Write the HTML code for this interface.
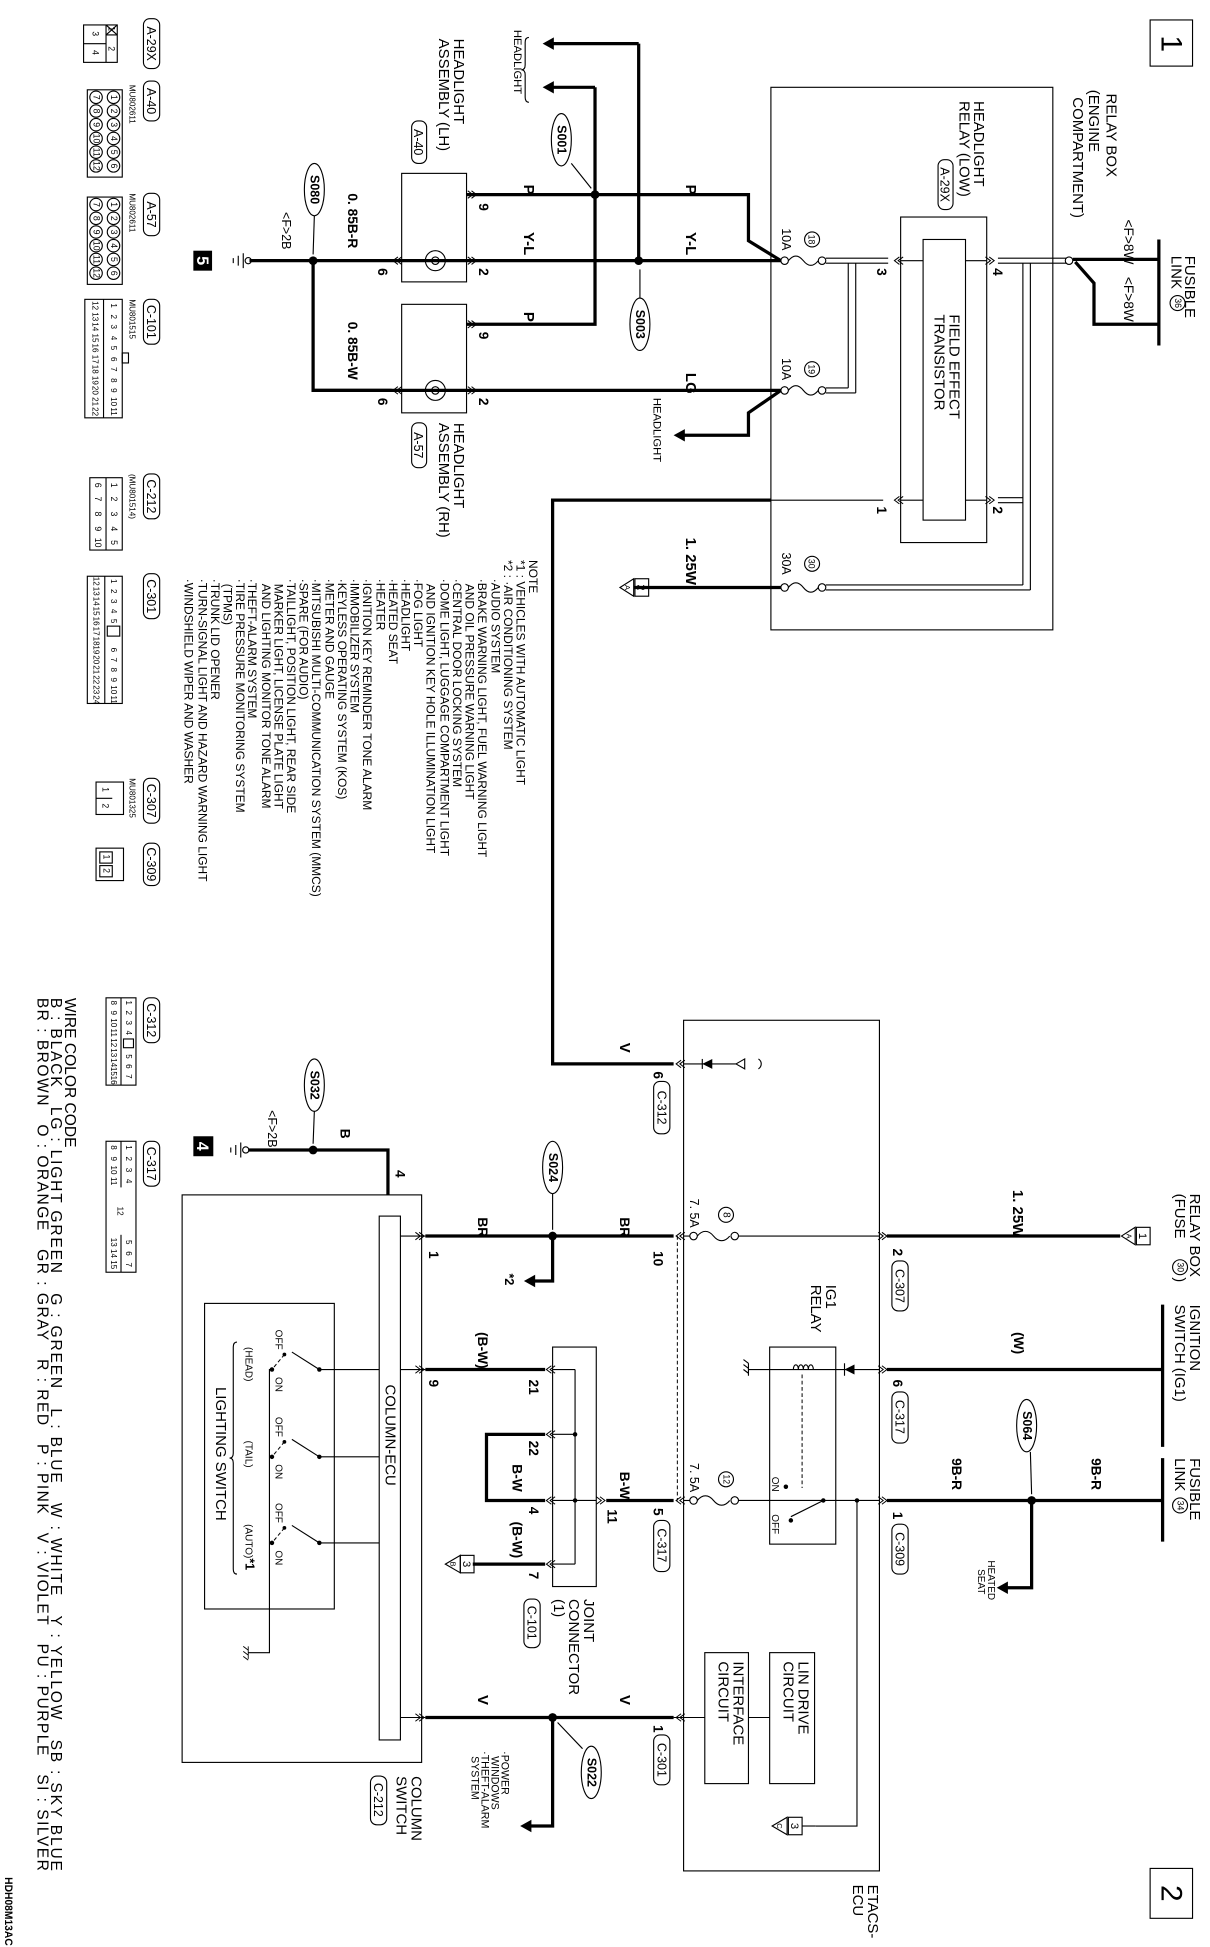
<!DOCTYPE html>
<html><head><meta charset="utf-8"><style>
html,body{margin:0;padding:0;background:#fff}
svg{display:block}
text{font-family:"Liberation Sans",sans-serif;fill:#000}
.w{stroke:#000;stroke-width:2.6;fill:none}
.t{stroke:#000;stroke-width:0.9;fill:none}
.d{stroke:#000;stroke-width:0.8;fill:none;stroke-dasharray:3 2}
.b{font-weight:bold}
</style></head><body>
<svg width="1210" height="1947" viewBox="0 0 970 1561" preserveAspectRatio="none" xmlns="http://www.w3.org/2000/svg">
<defs>
<g id="chev"><path d="M5,-3 L1,0 L5,3 M8,-3 L4,0 L8,3" stroke="#000" stroke-width="0.8" fill="none"/></g>
<g id="chevr"><path d="M-5,-3 L-1,0 L-5,3 M-8,-3 L-4,0 L-8,3" stroke="#000" stroke-width="0.8" fill="none"/></g>
</defs>

<!-- ============ TOP SECTION ============ -->
<rect x="922" y="16" width="34" height="37" class="t" stroke-width="1.3"/>
<text transform="translate(931,35) rotate(90)" font-size="24" text-anchor="middle">1</text>

<line x1="929" y1="192" x2="929" y2="277" class="w"/>
<text transform="translate(950,205) rotate(90)" font-size="12">FUSIBLE</text>
<text transform="translate(939,205) rotate(90)" font-size="12">LINK</text>
<circle cx="944" cy="243" r="6" class="t"/>
<text transform="translate(942,243) rotate(90)" font-size="7" text-anchor="middle">36</text>
<text transform="translate(901,176) rotate(90)" font-size="11">&lt;F&gt;8W</text>
<text transform="translate(901,222) rotate(90)" font-size="11">&lt;F&gt;8W</text>
<polyline points="929,208 860,208" class="w"/>
<polyline points="929,260 877,260 877,227 862,210" class="w"/>
<circle cx="857" cy="209" r="3" class="t" fill="#fff"/>

<rect x="618" y="70" width="226" height="435" class="t"/>
<text transform="translate(887,75) rotate(90)" font-size="12">RELAY BOX</text>
<text transform="translate(873,72) rotate(90)" font-size="12">(ENGINE</text>
<text transform="translate(860,78) rotate(90)" font-size="12">COMPARTMENT)</text>
<text transform="translate(781,81) rotate(90)" font-size="12">HEADLIGHT</text>
<text transform="translate(769,81) rotate(90)" font-size="12">RELAY (LOW)</text>
<rect x="752" y="128" width="12" height="40" rx="5" class="t"/>
<text transform="translate(754,148) rotate(90)" font-size="10" text-anchor="middle">A-29X</text>
<rect x="722" y="174" width="69" height="261" class="t"/>
<rect x="740" y="192" width="34" height="225" class="t"/>
<text transform="translate(761,252) rotate(90)" font-size="12">FIELD EFFECT</text>
<text transform="translate(749,252) rotate(90)" font-size="12">TRANSISTOR</text>
<line x1="722" y1="209" x2="740" y2="209" class="t"/>
<line x1="774" y1="209" x2="791" y2="209" class="t"/>
<line x1="722" y1="401" x2="740" y2="401" class="t"/>
<line x1="774" y1="401" x2="791" y2="401" class="t"/>
<use href="#chev" x="716" y="209"/><use href="#chevr" x="798" y="209"/>
<use href="#chev" x="716" y="401"/><use href="#chevr" x="798" y="401"/>
<text transform="translate(703,215) rotate(90)" font-size="11" class="b">3</text>
<text transform="translate(796,215) rotate(90)" font-size="11" class="b">4</text>
<text transform="translate(703,406) rotate(90)" font-size="11" class="b">1</text>
<text transform="translate(796,406) rotate(90)" font-size="11" class="b">2</text>

<path d="M662,207 H712 M662,211 H712" class="t" stroke-width="0.7"/>
<path d="M680,211 V311 M686,211 V315 M662,311 H680 M662,315 H686" class="t" stroke-width="0.7"/>
<path d="M800,207 H855 M800,211 H855" class="t" stroke-width="0.7"/>
<path d="M820,211 V469 M826,211 V473 M662,469 H820 M662,473 H826" class="t" stroke-width="0.7"/>
<path d="M800,399 H820 M800,403 H820" class="t" stroke-width="0.7"/>
<line x1="618" y1="401" x2="708" y2="401" class="t"/>

<g class="t">
<circle cx="629" cy="209" r="3"/><circle cx="659" cy="209" r="3"/>
<path d="M632,209 c4,-5 8,-5 12,0 c4,5 8,5 12,0"/>
<circle cx="629" cy="313" r="3"/><circle cx="659" cy="313" r="3"/>
<path d="M632,313 c4,-5 8,-5 12,0 c4,5 8,5 12,0"/>
<circle cx="629" cy="471" r="3"/><circle cx="659" cy="471" r="3"/>
<path d="M632,471 c4,-5 8,-5 12,0 c4,5 8,5 12,0"/>
<circle cx="651" cy="192" r="6"/><circle cx="651" cy="296" r="6"/><circle cx="651" cy="452" r="6"/>
</g>
<text transform="translate(648,192) rotate(90)" font-size="7" text-anchor="middle">18</text>
<text transform="translate(648,296) rotate(90)" font-size="7" text-anchor="middle">19</text>
<text transform="translate(648,452) rotate(90)" font-size="7" text-anchor="middle">30</text>
<text transform="translate(627,183) rotate(90)" font-size="10">10A</text>
<text transform="translate(627,287) rotate(90)" font-size="10">10A</text>
<text transform="translate(627,443) rotate(90)" font-size="10">30A</text>

<line x1="200" y1="209" x2="626" y2="209" class="w"/>
<polyline points="374,156 600,156 600,193 626,209" class="w"/>
<line x1="250" y1="313" x2="626" y2="313" class="w"/>
<polyline points="626,313 600,331 600,349 547,349" class="w"/>
<polygon points="540,349 549,344 549,354"/>
<text transform="translate(524,319) rotate(90)" font-size="9">HEADLIGHT</text>
<polyline points="477,70 477,260 374,260" class="w"/>
<polyline points="512,35 512,209" class="w"/>
<line x1="512" y1="35" x2="442" y2="35" class="w"/>
<polygon points="435,35 444,30 444,40"/>
<line x1="477" y1="70" x2="442" y2="70" class="w"/>
<polygon points="435,70 444,65 444,75"/>
<circle cx="477" cy="156" r="3.5"/><circle cx="512" cy="209" r="3.5"/>
<text transform="translate(412,24) rotate(90)" font-size="9">HEADLIGHT</text>
<path d="M424,30 q-3,0 -3,4 v18 q0,4 -3,4 q3,0 3,4 v18 q0,4 3,4" class="t"/>

<text transform="translate(550,148) rotate(90)" font-size="12" class="b">P</text>
<text transform="translate(550,186) rotate(90)" font-size="12" class="b">Y-L</text>
<text transform="translate(550,299) rotate(90)" font-size="12" class="b">LG</text>
<text transform="translate(550,431) rotate(90)" font-size="12" class="b">1. 25W</text>
<text transform="translate(420,148) rotate(90)" font-size="12" class="b">P</text>
<text transform="translate(420,186) rotate(90)" font-size="12" class="b">Y-L</text>
<text transform="translate(420,250) rotate(90)" font-size="12" class="b">P</text>

<ellipse cx="450" cy="112" rx="8" ry="21" class="t" stroke-width="1.2"/>
<text transform="translate(447,112) rotate(90)" font-size="10" text-anchor="middle" class="b">S001</text>
<line x1="458" y1="131" x2="474" y2="151" class="t"/>
<ellipse cx="513" cy="260" rx="8" ry="21" class="t" stroke-width="1.2"/>
<text transform="translate(510,260) rotate(90)" font-size="10" text-anchor="middle" class="b">S003</text>
<line x1="513" y1="239" x2="513" y2="216" class="t"/>
<ellipse cx="252" cy="152" rx="8" ry="21" class="t" stroke-width="1.2"/>
<text transform="translate(249,152) rotate(90)" font-size="10" text-anchor="middle" class="b">S080</text>
<line x1="252" y1="173" x2="251" y2="204" class="t"/>

<rect x="322" y="139" width="52" height="87" class="t"/>
<rect x="322" y="244" width="52" height="87" class="t"/>
<line x1="322" y1="209" x2="374" y2="209" class="t" stroke-width="0.6"/>
<line x1="322" y1="313" x2="374" y2="313" class="t" stroke-width="0.6"/>
<circle cx="349" cy="209" r="8" class="t" fill="#fff"/><circle cx="349" cy="209" r="3" class="t"/>
<circle cx="349" cy="313" r="8" class="t" fill="#fff"/><circle cx="349" cy="313" r="3" class="t"/>
<use href="#chevr" x="383" y="156"/><use href="#chevr" x="383" y="209"/><use href="#chev" x="314" y="209"/>
<use href="#chevr" x="383" y="260"/><use href="#chevr" x="383" y="313"/><use href="#chev" x="314" y="313"/>
<text transform="translate(384,163) rotate(90)" font-size="11" class="b">9</text>
<text transform="translate(384,215) rotate(90)" font-size="11" class="b">2</text>
<text transform="translate(303,215) rotate(90)" font-size="11" class="b">6</text>
<text transform="translate(384,266) rotate(90)" font-size="11" class="b">9</text>
<text transform="translate(384,319) rotate(90)" font-size="11" class="b">2</text>
<text transform="translate(303,319) rotate(90)" font-size="11" class="b">6</text>
<text transform="translate(364,31) rotate(90)" font-size="12">HEADLIGHT</text>
<text transform="translate(352,31) rotate(90)" font-size="12">ASSEMBLY (LH)</text>
<rect x="330" y="97" width="12" height="34" rx="5" class="t"/>
<text transform="translate(332,114) rotate(90)" font-size="10" text-anchor="middle">A-40</text>
<text transform="translate(364,339) rotate(90)" font-size="12">HEADLIGHT</text>
<text transform="translate(352,339) rotate(90)" font-size="12">ASSEMBLY (RH)</text>
<rect x="330" y="339" width="12" height="36" rx="5" class="t"/>
<text transform="translate(332,357) rotate(90)" font-size="10" text-anchor="middle">A-57</text>

<polyline points="251,209 251,313 314,313" class="w"/>
<circle cx="251" cy="209" r="3.5"/>
<text transform="translate(279,155) rotate(90)" font-size="11" class="b">0. 85B-R</text>
<text transform="translate(279,258) rotate(90)" font-size="11" class="b">0. 85B-W</text>
<text transform="translate(226,170) rotate(90)" font-size="10">&lt;F&gt;2B</text>
<circle cx="199" cy="209" r="2.5" class="t" fill="#fff"/>
<path d="M195,203 V215 M191,205 V213 M187,207 V211" class="t"/>
<rect x="155" y="201" width="15" height="16"/>
<text transform="translate(158,209) rotate(90)" font-size="13" text-anchor="middle" style="fill:#fff" class="b">5</text>

<line x1="508" y1="471" x2="626" y2="471" class="w"/>
<polygon points="497,471 508,464 508,478" class="t" fill="#fff"/>
<text transform="translate(501,471) rotate(90)" font-size="6" text-anchor="middle">A</text>
<rect x="509" y="464" width="11" height="14" class="t" fill="#fff"/>
<text transform="translate(511,471) rotate(90)" font-size="9" text-anchor="middle">2</text>

<polyline points="618,401 443,401 443,853 540,853" class="w"/>

<g font-size="9.6">
<text transform="translate(424,449) rotate(90)">NOTE</text>
<text transform="translate(414,449) rotate(90)">*1 : VEHICLES WITH AUTOMATIC LIGHT</text>
<text transform="translate(404,449) rotate(90)">*2 : ·AIR CONDITIONING SYSTEM</text>
<text transform="translate(394,464) rotate(90)">·AUDIO SYSTEM</text>
<text transform="translate(383,464) rotate(90)">·BRAKE WARNING LIGHT, FUEL WARNING LIGHT</text>
<text transform="translate(373,468) rotate(90)">AND OIL PRESSURE WARNING LIGHT</text>
<text transform="translate(363,464) rotate(90)">·CENTRAL DOOR LOCKING SYSTEM</text>
<text transform="translate(353,464) rotate(90)">·DOME LIGHT, LUGGAGE COMPARTMENT LIGHT</text>
<text transform="translate(342,468) rotate(90)">AND IGNITION KEY HOLE ILLUMINATION LIGHT</text>
<text transform="translate(332,464) rotate(90)">·FOG LIGHT</text>
<text transform="translate(322,464) rotate(90)">·HEADLIGHT</text>
<text transform="translate(312,464) rotate(90)">·HEATED SEAT</text>
<text transform="translate(302,464) rotate(90)">·HEATER</text>
<text transform="translate(291,464) rotate(90)">·IGNITION KEY REMINDER TONE ALARM</text>
<text transform="translate(281,464) rotate(90)">·IMMOBILIZER SYSTEM</text>
<text transform="translate(271,464) rotate(90)">·KEYLESS OPERATING SYSTEM (KOS)</text>
<text transform="translate(261,464) rotate(90)">·METER AND GAUGE</text>
<text transform="translate(250,464) rotate(90)">·MITSUBISHI MULTI-COMMUNICATION SYSTEM (MMCS)</text>
<text transform="translate(240,464) rotate(90)">·SPARE (FOR AUDIO)</text>
<text transform="translate(230,464) rotate(90)">·TAILLIGHT, POSITION LIGHT, REAR SIDE</text>
<text transform="translate(220,468) rotate(90)">MARKER LIGHT, LICENSE PLATE LIGHT</text>
<text transform="translate(210,468) rotate(90)">AND LIGHTING MONITOR TONE ALARM</text>
<text transform="translate(199,464) rotate(90)">·THEFT-ALARM SYSTEM</text>
<text transform="translate(189,464) rotate(90)">·TIRE PRESSURE MONITORING SYSTEM</text>
<text transform="translate(179,468) rotate(90)">(TPMS)</text>
<text transform="translate(169,464) rotate(90)">·TRUNK LID OPENER</text>
<text transform="translate(159,464) rotate(90)">·TURN-SIGNAL LIGHT AND HAZARD WARNING LIGHT</text>
<text transform="translate(148,464) rotate(90)">·WINDSHIELD WIPER AND WASHER</text>
</g>

<!-- ============ BOTTOM SECTION ============ -->
<rect x="922" y="1498" width="34" height="40" class="t" stroke-width="1.3"/>
<text transform="translate(931,1518) rotate(90)" font-size="24" text-anchor="middle">2</text>

<rect x="548" y="818" width="157" height="682" class="t"/>
<text transform="translate(696,1511) rotate(90)" font-size="12">ETACS-</text>
<text transform="translate(684,1511) rotate(90)" font-size="12">ECU</text>

<use href="#chev" x="541" y="853"/>
<line x1="548" y1="853" x2="590" y2="853" class="t"/>
<polygon points="563,853 571,849 571,857"/><line x1="563" y1="849" x2="563" y2="857" class="t"/>
<polygon points="590,853 597,849 597,857" class="t" fill="#fff"/>
<path d="M608,849 c3,2 3,6 0,8" class="t"/>
<text transform="translate(497,836) rotate(90)" font-size="12" class="b">V</text>
<text transform="translate(524,859) rotate(90)" font-size="11" class="b">6</text>
<rect x="524" y="867" width="13" height="42" rx="5" class="t"/>
<text transform="translate(527,888) rotate(90)" font-size="10" text-anchor="middle">C-312</text>

<text transform="translate(954,957) rotate(90)" font-size="12">RELAY BOX</text>
<text transform="translate(942,957) rotate(90)" font-size="12">(FUSE</text>
<circle cx="946" cy="1016" r="6" class="t"/>
<text transform="translate(944,1016) rotate(90)" font-size="7" text-anchor="middle">30</text>
<text transform="translate(942,1024) rotate(90)" font-size="12">)</text>
<line x1="711" y1="991" x2="898" y2="991" class="w"/>
<polygon points="899,991 910,984 910,998" class="t" fill="#fff"/>
<text transform="translate(903,991) rotate(90)" font-size="6" text-anchor="middle">A</text>
<rect x="911" y="984" width="11" height="14" class="t" fill="#fff"/>
<text transform="translate(913,991) rotate(90)" font-size="9" text-anchor="middle">1</text>
<text transform="translate(812,954) rotate(90)" font-size="12" class="b">1. 25W</text>

<line x1="932" y1="1046" x2="932" y2="1160" class="w"/>
<text transform="translate(954,1046) rotate(90)" font-size="12">IGNITION</text>
<text transform="translate(942,1046) rotate(90)" font-size="12">SWITCH (IG1)</text>
<line x1="711" y1="1098" x2="932" y2="1098" class="w"/>
<text transform="translate(813,1068) rotate(90)" font-size="11" class="b">(W)</text>

<line x1="932" y1="1169" x2="932" y2="1236" class="w"/>
<text transform="translate(954,1169) rotate(90)" font-size="12">FUSIBLE</text>
<text transform="translate(942,1169) rotate(90)" font-size="12">LINK</text>
<circle cx="946" cy="1207" r="6" class="t"/>
<text transform="translate(944,1207) rotate(90)" font-size="7" text-anchor="middle">34</text>
<line x1="711" y1="1203" x2="932" y2="1203" class="w"/>
<circle cx="827" cy="1203" r="3.5"/>
<polyline points="827,1203 827,1273 806,1273" class="w"/>
<polygon points="799,1273 808,1268 808,1278"/>
<text transform="translate(792,1251) rotate(90)" font-size="8">HEATED</text>
<text transform="translate(784,1258) rotate(90)" font-size="8">SEAT</text>
<ellipse cx="823" cy="1143" rx="8" ry="21" class="t" stroke-width="1.2"/>
<text transform="translate(820,1143) rotate(90)" font-size="10" text-anchor="middle" class="b">S064</text>
<line x1="826" y1="1164" x2="827" y2="1198" class="t"/>
<text transform="translate(875,1169) rotate(90)" font-size="11" class="b">9B-R</text>
<text transform="translate(763,1169) rotate(90)" font-size="11" class="b">9B-R</text>

<use href="#chevr" x="712" y="991"/><use href="#chevr" x="712" y="1098"/><use href="#chevr" x="712" y="1203"/>
<text transform="translate(716,1001) rotate(90)" font-size="11" class="b">2</text>
<rect x="715" y="1011" width="13" height="40" rx="5" class="t"/>
<text transform="translate(718,1031) rotate(90)" font-size="10" text-anchor="middle">C-307</text>
<text transform="translate(716,1106) rotate(90)" font-size="11" class="b">6</text>
<rect x="715" y="1116" width="13" height="41" rx="5" class="t"/>
<text transform="translate(718,1136) rotate(90)" font-size="10" text-anchor="middle">C-317</text>
<text transform="translate(716,1212) rotate(90)" font-size="11" class="b">1</text>
<rect x="715" y="1222" width="13" height="40" rx="5" class="t"/>
<text transform="translate(718,1242) rotate(90)" font-size="10" text-anchor="middle">C-309</text>

<g class="t">
<circle cx="556" cy="991" r="3"/><circle cx="589" cy="991" r="3"/>
<path d="M559,991 c4,-5 9,-5 13,0 c4,5 9,5 13,0"/>
<line x1="592" y1="991" x2="705" y2="991"/>
<circle cx="556" cy="1203" r="3"/><circle cx="589" cy="1203" r="3"/>
<path d="M559,1203 c4,-5 9,-5 13,0 c4,5 9,5 13,0"/>
<circle cx="582" cy="974" r="6"/><circle cx="582" cy="1186" r="6"/>
</g>
<text transform="translate(580,974) rotate(90)" font-size="8" text-anchor="middle">8</text>
<text transform="translate(580,1186) rotate(90)" font-size="7" text-anchor="middle">12</text>
<text transform="translate(553,961) rotate(90)" font-size="10">7. 5A</text>
<text transform="translate(553,1173) rotate(90)" font-size="10">7. 5A</text>
<line x1="543" y1="991" x2="543" y2="1203" class="d"/>

<rect x="617" y="1080" width="53" height="158" class="t"/>
<text transform="translate(662,1030) rotate(90)" font-size="12">IG1</text>
<text transform="translate(650,1030) rotate(90)" font-size="12">RELAY</text>
<line x1="600" y1="1098" x2="705" y2="1098" class="t"/>
<path d="M636,1098 c0,-5 4,-5 4,0 c0,-5 4,-5 4,0 c0,-5 4,-5 4,0 c0,-5 4,-5 4,0" class="t" fill="#fff"/>
<polygon points="677,1098 685,1094 685,1102"/><line x1="677" y1="1093" x2="677" y2="1103" class="t"/>
<path d="M600,1093 V1103 M596,1094 l4,3 M596,1098 l4,3 M596,1090 l4,3" class="t" stroke-width="0.7"/>
<line x1="643" y1="1102" x2="643" y2="1193" class="d"/>
<line x1="592" y1="1203" x2="705" y2="1203" class="t"/>
<circle cx="660" cy="1203" r="1.8"/>
<line x1="660" y1="1203" x2="634" y2="1216" class="t"/>
<circle cx="630" cy="1192" r="1.8"/><circle cx="634" cy="1219" r="1.8"/>
<text transform="translate(619,1184) rotate(90)" font-size="8">ON</text>
<text transform="translate(619,1214) rotate(90)" font-size="8">OFF</text>
<circle cx="687" cy="1203" r="1.8"/>
<polyline points="687,1203 687,1464 654,1464" class="t"/>
<polygon points="619,1464 631,1457 631,1471" class="t" fill="#fff"/>
<text transform="translate(623,1464) rotate(90)" font-size="6" text-anchor="middle">C</text>
<rect x="632" y="1457" width="11" height="14" class="t" fill="#fff"/>
<text transform="translate(634,1464) rotate(90)" font-size="9" text-anchor="middle">3</text>
<line x1="643" y1="1464" x2="654" y2="1464" class="t"/>

<rect x="617" y="1325" width="36" height="105" class="t"/>
<rect x="565" y="1325" width="35" height="105" class="t"/>
<text transform="translate(640,1332) rotate(90)" font-size="12">LIN DRIVE</text>
<text transform="translate(628,1332) rotate(90)" font-size="12">CIRCUIT</text>
<text transform="translate(588,1332) rotate(90)" font-size="12">INTERFACE</text>
<text transform="translate(576,1332) rotate(90)" font-size="12">CIRCUIT</text>
<line x1="540" y1="1377" x2="565" y2="1377" class="t"/>
<line x1="600" y1="1377" x2="617" y2="1377" class="t"/>

<line x1="341" y1="1377" x2="540" y2="1377" class="w"/>
<circle cx="443" cy="1377" r="3.5"/>
<polyline points="443,1377 443,1464 424,1464" class="w"/>
<polygon points="417,1464 426,1459 426,1469"/>
<ellipse cx="474" cy="1421" rx="8" ry="21" class="t" stroke-width="1.2"/>
<text transform="translate(471,1421) rotate(90)" font-size="10" text-anchor="middle" class="b">S022</text>
<line x1="467" y1="1402" x2="447" y2="1381" class="t"/>
<text transform="translate(402,1404) rotate(90)" font-size="8.5">·POWER</text>
<text transform="translate(394,1408) rotate(90)" font-size="8.5">WINDOWS</text>
<text transform="translate(386,1404) rotate(90)" font-size="8.5">·THEFT-ALARM</text>
<text transform="translate(378,1408) rotate(90)" font-size="8.5">SYSTEM</text>
<text transform="translate(497,1359) rotate(90)" font-size="12" class="b">V</text>
<text transform="translate(383,1359) rotate(90)" font-size="12" class="b">V</text>
<text transform="translate(524,1383) rotate(90)" font-size="11" class="b">1</text>
<rect x="524" y="1391" width="13" height="40" rx="5" class="t"/>
<text transform="translate(527,1411) rotate(90)" font-size="10" text-anchor="middle">C-301</text>
<use href="#chev" x="541" y="1377"/><use href="#chev" x="541" y="991"/><use href="#chev" x="541" y="1203"/>

<line x1="341" y1="991" x2="540" y2="991" class="w"/>
<line x1="548" y1="991" x2="553" y2="991" class="t"/>
<line x1="548" y1="1203" x2="553" y2="1203" class="t"/>
<circle cx="443" cy="991" r="3.5"/>
<polyline points="443,991 443,1027 427,1027" class="w"/>
<polygon points="420,1027 429,1022 429,1032"/>
<text transform="translate(405,1021) rotate(90)" font-size="10" class="b">*2</text>
<ellipse cx="443" cy="936" rx="8" ry="21" class="t" stroke-width="1.2"/>
<text transform="translate(440,936) rotate(90)" font-size="10" text-anchor="middle" class="b">S024</text>
<line x1="443" y1="957" x2="443" y2="986" class="t"/>
<text transform="translate(497,976) rotate(90)" font-size="11" class="b">BR</text>
<text transform="translate(383,976) rotate(90)" font-size="11" class="b">BR</text>
<text transform="translate(524,1003) rotate(90)" font-size="11" class="b">10</text>
<text transform="translate(344,1003) rotate(90)" font-size="11" class="b">1</text>

<rect x="443" y="1080" width="35" height="192" class="t"/>
<line x1="461" y1="1098" x2="461" y2="1254" class="t"/>
<line x1="443" y1="1098" x2="461" y2="1098" class="t"/>
<line x1="443" y1="1150" x2="461" y2="1150" class="t"/>
<line x1="443" y1="1203" x2="478" y2="1203" class="t"/>
<line x1="443" y1="1254" x2="461" y2="1254" class="t"/>
<circle cx="461" cy="1150" r="1.8"/><circle cx="461" cy="1203" r="1.8"/>
<use href="#chev" x="437" y="1098"/><use href="#chev" x="437" y="1150"/><use href="#chev" x="437" y="1203"/><use href="#chev" x="437" y="1254"/>
<use href="#chevr" x="486" y="1203"/>
<line x1="341" y1="1098" x2="437" y2="1098" class="w"/>
<polyline points="437,1150 390,1150 390,1203 437,1203" class="w"/>
<line x1="486" y1="1203" x2="540" y2="1203" class="w"/>
<line x1="379" y1="1254" x2="437" y2="1254" class="w"/>
<polygon points="357,1254 369,1247 369,1261" class="t" fill="#fff"/>
<text transform="translate(361,1254) rotate(90)" font-size="6" text-anchor="middle">B</text>
<rect x="369" y="1247" width="11" height="14" class="t" fill="#fff"/>
<text transform="translate(371,1254) rotate(90)" font-size="9" text-anchor="middle">3</text>
<text transform="translate(383,1068) rotate(90)" font-size="11" class="b">(B-W)</text>
<text transform="translate(344,1106) rotate(90)" font-size="11" class="b">9</text>
<text transform="translate(424,1106) rotate(90)" font-size="11" class="b">21</text>
<text transform="translate(424,1155) rotate(90)" font-size="11" class="b">22</text>
<text transform="translate(411,1174) rotate(90)" font-size="11" class="b">B-W</text>
<text transform="translate(424,1208) rotate(90)" font-size="11" class="b">4</text>
<text transform="translate(411,1220) rotate(90)" font-size="11" class="b">(B-W)</text>
<text transform="translate(424,1260) rotate(90)" font-size="11" class="b">7</text>
<text transform="translate(487,1210) rotate(90)" font-size="11" class="b">11</text>
<text transform="translate(497,1180) rotate(90)" font-size="11" class="b">B-W</text>
<text transform="translate(524,1209) rotate(90)" font-size="11" class="b">5</text>
<rect x="524" y="1219" width="13" height="41" rx="5" class="t"/>
<text transform="translate(527,1239) rotate(90)" font-size="10" text-anchor="middle">C-317</text>
<text transform="translate(468,1282) rotate(90)" font-size="12">JOINT</text>
<text transform="translate(456,1282) rotate(90)" font-size="12">CONNECTOR</text>
<text transform="translate(444,1282) rotate(90)" font-size="12">(1)</text>
<rect x="420" y="1282" width="13" height="39" rx="5" class="t"/>
<text transform="translate(423,1301) rotate(90)" font-size="10" text-anchor="middle">C-101</text>

<rect x="146" y="958" width="192" height="455" class="t"/>
<rect x="304" y="975" width="17" height="420" class="t"/>
<text transform="translate(309,1110) rotate(90)" font-size="12">COLUMN-ECU</text>
<line x1="321" y1="991" x2="341" y2="991" class="t"/><use href="#chevr" x="341" y="991"/>
<line x1="321" y1="1098" x2="341" y2="1098" class="t"/><use href="#chevr" x="341" y="1098"/>
<line x1="321" y1="1377" x2="341" y2="1377" class="t"/><use href="#chevr" x="341" y="1377"/>
<text transform="translate(330,1424) rotate(90)" font-size="12">COLUMN</text>
<text transform="translate(318,1424) rotate(90)" font-size="12">SWITCH</text>
<rect x="297" y="1424" width="13" height="39" rx="5" class="t"/>
<text transform="translate(300,1443) rotate(90)" font-size="10" text-anchor="middle">C-212</text>

<rect x="164" y="1045" width="104" height="245" class="t"/>
<text transform="translate(173,1112) rotate(90)" font-size="12">LIGHTING SWITCH</text>
<path d="M190,1076 q-3,0 -3,4 v85 q0,4 -3,4 q3,0 3,4 v85 q0,4 3,4" class="t"/>
<g class="t">
<line x1="256" y1="1098" x2="304" y2="1098"/>
<line x1="256" y1="1168" x2="304" y2="1168"/>
<line x1="256" y1="1237" x2="304" y2="1237"/>
<line x1="256" y1="1098" x2="234" y2="1084"/>
<line x1="256" y1="1168" x2="234" y2="1154"/>
<line x1="256" y1="1237" x2="234" y2="1223"/>
<polyline points="218,1098 216,1098 216,1325 199,1325"/>
<line x1="216" y1="1168" x2="218" y2="1168"/>
<line x1="216" y1="1237" x2="218" y2="1237"/>
<path d="M199,1320 V1330 M195,1320 l4,3 M195,1324 l4,3 M195,1328 l4,3" stroke-width="0.7"/>
</g>
<g>
<circle cx="256" cy="1098" r="1.8"/><circle cx="256" cy="1168" r="1.8"/><circle cx="256" cy="1237" r="1.8"/>
<circle cx="218" cy="1098" r="1.8"/><circle cx="218" cy="1168" r="1.8"/><circle cx="218" cy="1237" r="1.8"/>
<circle cx="228" cy="1086" r="1.5"/><circle cx="228" cy="1156" r="1.5"/><circle cx="228" cy="1225" r="1.5"/>
</g>
<path d="M228,1086 L218,1098 M228,1156 L218,1168 M228,1225 L218,1237" class="d" stroke-width="0.6"/>
<g font-size="8">
<text transform="translate(221,1066) rotate(90)">OFF</text>
<text transform="translate(221,1104) rotate(90)">ON</text>
<text transform="translate(221,1136) rotate(90)">OFF</text>
<text transform="translate(221,1174) rotate(90)">ON</text>
<text transform="translate(221,1205) rotate(90)">OFF</text>
<text transform="translate(221,1243) rotate(90)">ON</text>
<text transform="translate(197,1080) rotate(90)">(HEAD)</text>
<text transform="translate(197,1155) rotate(90)">(TAIL)</text>
<text transform="translate(197,1222) rotate(90)">(AUTO)<tspan font-size="10" class="b">*1</tspan></text>
</g>

<polyline points="199,922 311,922 311,958" class="w"/>
<circle cx="251" cy="922" r="3.5"/>
<ellipse cx="252" cy="870" rx="8" ry="21" class="t" stroke-width="1.2"/>
<text transform="translate(249,870) rotate(90)" font-size="10" text-anchor="middle" class="b">S032</text>
<line x1="252" y1="891" x2="251" y2="917" class="t"/>
<text transform="translate(273,905) rotate(90)" font-size="11" class="b">B</text>
<text transform="translate(317,938) rotate(90)" font-size="11" class="b">4</text>
<text transform="translate(215,890) rotate(90)" font-size="10">&lt;F&gt;2B</text>
<circle cx="197" cy="922" r="2.5" class="t" fill="#fff"/>
<path d="M193,916 V928 M189,918 V926 M185,920 V924" class="t"/>
<rect x="155" y="911" width="16" height="16"/>
<text transform="translate(158,919) rotate(90)" font-size="13" text-anchor="middle" style="fill:#fff" class="b">4</text>

<!-- connector views -->
<g font-size="10">
<rect x="115" y="15" width="13" height="40" rx="5" class="t"/><text transform="translate(118,35) rotate(90)" text-anchor="middle">A-29X</text>
<rect x="115" y="65" width="13" height="32" rx="5" class="t"/><text transform="translate(118,81) rotate(90)" text-anchor="middle">A-40</text>
<rect x="115" y="155" width="13" height="34" rx="5" class="t"/><text transform="translate(118,172) rotate(90)" text-anchor="middle">A-57</text>
<rect x="115" y="240" width="13" height="36" rx="5" class="t"/><text transform="translate(118,258) rotate(90)" text-anchor="middle">C-101</text>
<rect x="115" y="380" width="13" height="36" rx="5" class="t"/><text transform="translate(118,398) rotate(90)" text-anchor="middle">C-212</text>
<rect x="115" y="460" width="13" height="36" rx="5" class="t"/><text transform="translate(118,478) rotate(90)" text-anchor="middle">C-301</text>
<rect x="115" y="624" width="13" height="36" rx="5" class="t"/><text transform="translate(118,642) rotate(90)" text-anchor="middle">C-307</text>
<rect x="115" y="676" width="13" height="34" rx="5" class="t"/><text transform="translate(118,693) rotate(90)" text-anchor="middle">C-309</text>
<rect x="115" y="800" width="13" height="36" rx="5" class="t"/><text transform="translate(118,818) rotate(90)" text-anchor="middle">C-312</text>
<rect x="115" y="915" width="13" height="36" rx="5" class="t"/><text transform="translate(118,933) rotate(90)" text-anchor="middle">C-317</text>
</g>
<g font-size="6.5">
<text transform="translate(104,68) rotate(90)">MU802611</text>
<text transform="translate(104,155) rotate(90)">MU802611</text>
<text transform="translate(104,240) rotate(90)">MU801515</text>
<text transform="translate(104,380) rotate(90)">(MU801514)</text>
<text transform="translate(104,624) rotate(90)">MU801325</text>
</g>

<rect x="67" y="20" width="27" height="30" class="t"/>
<line x1="85" y1="20" x2="85" y2="50" class="t"/><line x1="67" y1="35" x2="85" y2="35" class="t"/>
<line x1="85" y1="28" x2="94" y2="28" class="t"/><path d="M85,28 L94,20 M85,20 L94,28" class="t" stroke-width="0.6"/>
<g font-size="7">
<text transform="translate(87,39) rotate(90)" text-anchor="middle">2</text>
<text transform="translate(87,23) rotate(90)" text-anchor="middle">1</text>
<text transform="translate(74,27) rotate(90)" text-anchor="middle">3</text>
<text transform="translate(74,42) rotate(90)" text-anchor="middle">4</text>
</g>
<g id="a40">
<rect x="70" y="72" width="28" height="70" class="t"/>
<g class="t" stroke-width="0.6">
<circle cx="91" cy="78" r="5"/><circle cx="91" cy="89" r="5"/><circle cx="91" cy="100" r="5"/><circle cx="91" cy="111" r="5"/><circle cx="91" cy="122" r="5"/><circle cx="91" cy="133" r="5"/>
<circle cx="77" cy="78" r="5"/><circle cx="77" cy="89" r="5"/><circle cx="77" cy="100" r="5"/><circle cx="77" cy="111" r="5"/><circle cx="77" cy="122" r="5"/><circle cx="77" cy="133" r="5"/>
</g>
<g font-size="7" text-anchor="middle">
<text transform="translate(89,78) rotate(90)">1</text><text transform="translate(89,89) rotate(90)">2</text><text transform="translate(89,100) rotate(90)">3</text><text transform="translate(89,111) rotate(90)">4</text><text transform="translate(89,122) rotate(90)">5</text><text transform="translate(89,133) rotate(90)">6</text>
<text transform="translate(75,78) rotate(90)">7</text><text transform="translate(75,89) rotate(90)">8</text><text transform="translate(75,100) rotate(90)">9</text><text transform="translate(75,111) rotate(90)">10</text><text transform="translate(75,122) rotate(90)">11</text><text transform="translate(75,133) rotate(90)">12</text>
</g>
</g>
<use href="#a40" y="86"/>

<rect x="68" y="240" width="30" height="95" class="t"/>
<line x1="83" y1="240" x2="83" y2="335" class="t"/>
<g font-size="6.5" text-anchor="middle">
<text transform="translate(89,245) rotate(90)">1</text><text transform="translate(89,254) rotate(90)">2</text><text transform="translate(89,262) rotate(90)">3</text><text transform="translate(89,271) rotate(90)">4</text><text transform="translate(89,279) rotate(90)">5</text><text transform="translate(89,288) rotate(90)">6</text><text transform="translate(89,296) rotate(90)">7</text><text transform="translate(89,305) rotate(90)">8</text><text transform="translate(89,313) rotate(90)">9</text><text transform="translate(89,322) rotate(90)">10</text><text transform="translate(89,330) rotate(90)">11</text>
<text transform="translate(74,245) rotate(90)">12</text><text transform="translate(74,254) rotate(90)">13</text><text transform="translate(74,262) rotate(90)">14</text><text transform="translate(74,271) rotate(90)">15</text><text transform="translate(74,279) rotate(90)">16</text><text transform="translate(74,288) rotate(90)">17</text><text transform="translate(74,296) rotate(90)">18</text><text transform="translate(74,305) rotate(90)">19</text><text transform="translate(74,313) rotate(90)">20</text><text transform="translate(74,322) rotate(90)">21</text><text transform="translate(74,330) rotate(90)">22</text>
</g>
<rect x="98" y="283" width="5" height="8" class="t"/>

<rect x="72" y="383" width="26" height="58" class="t"/>
<line x1="85" y1="383" x2="85" y2="441" class="t"/>
<g font-size="7" text-anchor="middle">
<text transform="translate(89,389) rotate(90)">1</text><text transform="translate(89,400) rotate(90)">2</text><text transform="translate(89,412) rotate(90)">3</text><text transform="translate(89,424) rotate(90)">4</text><text transform="translate(89,435) rotate(90)">5</text>
<text transform="translate(76,389) rotate(90)">6</text><text transform="translate(76,400) rotate(90)">7</text><text transform="translate(76,412) rotate(90)">8</text><text transform="translate(76,424) rotate(90)">9</text><text transform="translate(76,435) rotate(90)">10</text>
</g>

<rect x="70" y="462" width="28" height="102" class="t"/>
<line x1="84" y1="462" x2="84" y2="564" class="t"/>
<rect x="86" y="502" width="10" height="8" class="t"/>
<g font-size="6.5" text-anchor="middle">
<text transform="translate(89,466) rotate(90)">1</text><text transform="translate(89,474) rotate(90)">2</text><text transform="translate(89,482) rotate(90)">3</text><text transform="translate(89,490) rotate(90)">4</text><text transform="translate(89,498) rotate(90)">5</text><text transform="translate(89,521) rotate(90)">6</text><text transform="translate(89,529) rotate(90)">7</text><text transform="translate(89,537) rotate(90)">8</text><text transform="translate(89,545) rotate(90)">9</text><text transform="translate(89,553) rotate(90)">10</text><text transform="translate(89,561) rotate(90)">11</text>
<text transform="translate(75,466) rotate(90)">12</text><text transform="translate(75,474) rotate(90)">13</text><text transform="translate(75,482) rotate(90)">14</text><text transform="translate(75,490) rotate(90)">15</text><text transform="translate(75,498) rotate(90)">16</text><text transform="translate(75,506) rotate(90)">17</text><text transform="translate(75,514) rotate(90)">18</text><text transform="translate(75,521) rotate(90)">19</text><text transform="translate(75,529) rotate(90)">20</text><text transform="translate(75,537) rotate(90)">21</text><text transform="translate(75,545) rotate(90)">22</text><text transform="translate(75,553) rotate(90)">23</text><text transform="translate(75,561) rotate(90)">24</text>
</g>

<rect x="77" y="627" width="22" height="26" class="t"/>
<line x1="77" y1="640" x2="90" y2="640" class="t"/>
<g font-size="7" text-anchor="middle"><text transform="translate(82,633) rotate(90)">1</text><text transform="translate(82,646) rotate(90)">2</text></g>
<rect x="77" y="680" width="22" height="26" class="t"/>
<rect x="80" y="683" width="10" height="9" class="t"/><rect x="80" y="694" width="10" height="9" class="t"/>
<g font-size="7" text-anchor="middle"><text transform="translate(83,687) rotate(90)">1</text><text transform="translate(83,698) rotate(90)">2</text></g>

<rect x="85" y="800" width="24" height="70" class="t"/>
<line x1="97" y1="800" x2="97" y2="870" class="t"/>
<g font-size="6.5" text-anchor="middle">
<text transform="translate(101,804) rotate(90)">1</text><text transform="translate(101,812) rotate(90)">2</text><text transform="translate(101,820) rotate(90)">3</text><text transform="translate(101,828) rotate(90)">4</text><text transform="translate(101,847) rotate(90)">5</text><text transform="translate(101,855) rotate(90)">6</text><text transform="translate(101,863) rotate(90)">7</text>
<text transform="translate(89,804) rotate(90)">8</text><text transform="translate(89,812) rotate(90)">9</text><text transform="translate(89,820) rotate(90)">10</text><text transform="translate(89,828) rotate(90)">11</text><text transform="translate(89,836) rotate(90)">12</text><text transform="translate(89,844) rotate(90)">13</text><text transform="translate(89,852) rotate(90)">14</text><text transform="translate(89,859) rotate(90)">15</text><text transform="translate(89,866) rotate(90)">16</text>
</g>
<rect x="99" y="833" width="8" height="7" class="t"/>

<rect x="85" y="915" width="24" height="105" class="t"/>
<line x1="97" y1="915" x2="97" y2="952" class="t"/><line x1="97" y1="990" x2="97" y2="1020" class="t"/>
<g font-size="6.5" text-anchor="middle">
<text transform="translate(101,920) rotate(90)">1</text><text transform="translate(101,929) rotate(90)">2</text><text transform="translate(101,938) rotate(90)">3</text><text transform="translate(101,947) rotate(90)">4</text><text transform="translate(101,996) rotate(90)">5</text><text transform="translate(101,1005) rotate(90)">6</text><text transform="translate(101,1014) rotate(90)">7</text>
<text transform="translate(89,920) rotate(90)">8</text><text transform="translate(89,929) rotate(90)">9</text><text transform="translate(89,938) rotate(90)">10</text><text transform="translate(89,947) rotate(90)">11</text><text transform="translate(94,971) rotate(90)">12</text><text transform="translate(89,996) rotate(90)">13</text><text transform="translate(89,1005) rotate(90)">14</text><text transform="translate(89,1014) rotate(90)">15</text>
</g>

<text transform="translate(52,800) rotate(90)" font-size="12.5">WIRE COLOR CODE</text>
<text transform="translate(41,800) rotate(90)" font-size="12.5" textLength="700" lengthAdjust="spacing">B : BLACK&#160;&#160;&#160;LG : LIGHT GREEN&#160;&#160;&#160;G : GREEN&#160;&#160;&#160;L : BLUE&#160;&#160;&#160;W : WHITE&#160;&#160;&#160;Y : YELLOW&#160;&#160;&#160;SB : SKY BLUE</text>
<text transform="translate(30,800) rotate(90)" font-size="12.5" textLength="700" lengthAdjust="spacing">BR : BROWN&#160;&#160;&#160;O : ORANGE&#160;&#160;&#160;GR : GRAY&#160;&#160;&#160;R : RED&#160;&#160;&#160;P : PINK&#160;&#160;&#160;V : VIOLET&#160;&#160;&#160;PU : PURPLE&#160;&#160;&#160;SI : SILVER</text>
<text transform="translate(4,1505) rotate(90)" font-size="9" class="b" textLength="55" lengthAdjust="spacingAndGlyphs">HDH08M13AC</text>
</svg>
</body></html>
